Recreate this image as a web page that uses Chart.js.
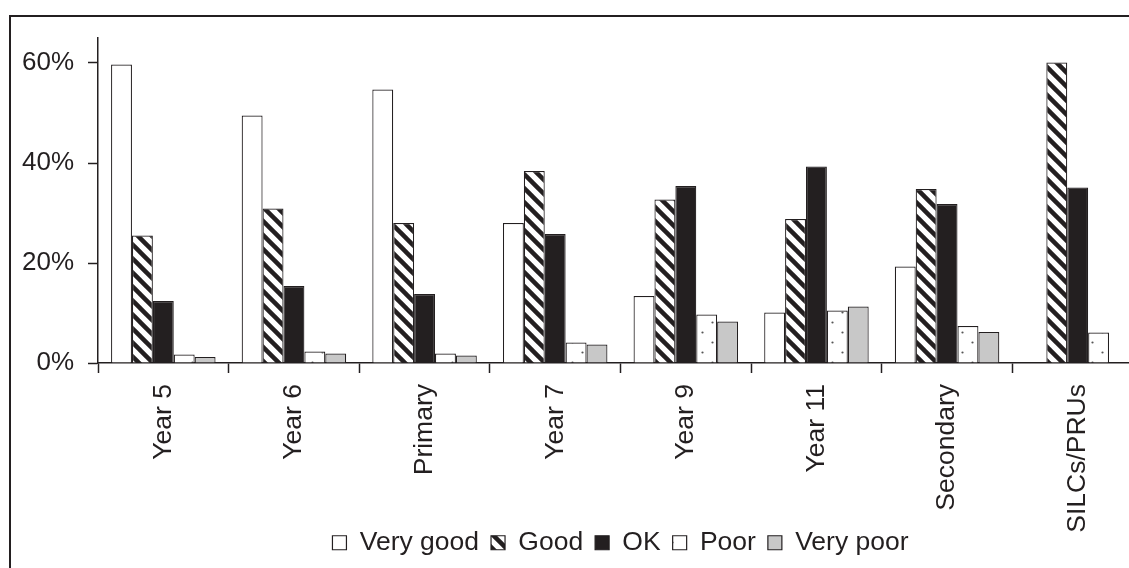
<!DOCTYPE html>
<html>
<head>
<meta charset="utf-8">
<script src="https://cdn.jsdelivr.net/npm/chart.js@4/dist/chart.umd.min.js"></script>
<style>
  html, body { margin: 0; padding: 0; background: #fff; overflow: hidden; width: 1129px; height: 568px; }
  #wrap { position: absolute; left: 0; top: 0; width: 1143px; height: 568px; }
</style>
</head>
<body>
<div id="wrap"><canvas id="chart"></canvas></div>
<script>
// Survey ratings by school phase (% of pupils)
const categories = ['Year 5', 'Year 6', 'Primary', 'Year 7', 'Year 9', 'Year 11', 'Secondary', 'SILCs/PRUs'];
const veryGood = [59.7, 49.5, 54.7, 28.0, 13.4, 10.1, 19.3, 0];
const good     = [25.5, 30.9, 28.0, 38.4, 32.7, 28.8, 34.8, 60.1];
const ok       = [12.4, 15.4, 13.8, 25.8, 35.4, 39.3, 31.8, 35.1];
const poor     = [1.7, 2.3, 1.9, 4.1, 9.7, 10.5, 7.4, 6.1];
const veryPoor = [1.2, 1.9, 1.5, 3.7, 8.3, 11.3, 6.2, 0];
const seriesNames = ['Very good', 'Good', 'OK', 'Poor', 'Very poor'];
const yTickValues = [0, 20, 40, 60];

const INK = '#231f20';
const FONT = 'Arial, "Liberation Sans", sans-serif';

// diagonal "\" hatching for the Good series
function hatchPattern() {
  const s = 14;
  const c = document.createElement('canvas');
  c.width = s; c.height = s;
  const g = c.getContext('2d');
  g.fillStyle = '#fff';
  g.fillRect(0, 0, s, s);
  g.strokeStyle = INK;
  g.lineWidth = 4.5;
  for (let k = -1; k <= 1; k++) {
    g.beginPath();
    g.moveTo(k * s - 2, -2);
    g.lineTo(k * s + s + 2, s + 2);
    g.stroke();
  }
  return g.createPattern(c, 'repeat');
}

// sparse dots for the Poor series
function dotPattern() {
  const w = 20, h = 20;
  const c = document.createElement('canvas');
  c.width = w; c.height = h;
  const g = c.getContext('2d');
  g.fillStyle = '#fff';
  g.fillRect(0, 0, w, h);
  g.fillStyle = '#555';
  [[12, 2], [2, 12]].forEach(([x, y]) => {
    g.beginPath(); g.arc(x + 0.5, y + 0.5, 1.1, 0, Math.PI * 2); g.fill();
  });
  return g.createPattern(c, 'repeat');
}

const fills = ['#ffffff', hatchPattern(), INK, dotPattern(), '#c8c8c8'];
const values = [veryGood, good, ok, poor, veryPoor];

const framePlugin = {
  id: 'frame',
  afterLayout(chart) {
    // let the rotated category labels run down past the legend row
    chart.scales.x.bottom = chart.height;
  },
  beforeDraw(chart) {
    const ctx = chart.ctx;
    ctx.save();
    ctx.fillStyle = '#fff';
    ctx.fillRect(0, 0, chart.width, chart.height);
    ctx.strokeStyle = INK;
    ctx.lineWidth = 2;
    ctx.beginPath();
    ctx.moveTo(10, chart.height + 5);
    ctx.lineTo(10, 16);
    ctx.lineTo(chart.width + 5, 16);
    ctx.stroke();
    ctx.restore();
  }
};

new Chart(document.getElementById('chart'), {
  type: 'bar',
  data: {
    labels: categories,
    datasets: seriesNames.map((name, i) => ({
      label: name,
      data: values[i],
      backgroundColor: fills[i],
      borderColor: INK,
      borderWidth: 1.2,
      categoryPercentage: 0.8,
      barPercentage: 1.0
    }))
  },
  options: {
    responsive: true,
    maintainAspectRatio: false,
    animation: false,
    layout: { padding: { top: 38, left: 0, right: 0, bottom: 2 } },
    plugins: {
      tooltip: { enabled: false },
      legend: {
        position: 'bottom',
        fullSize: false,
        labels: {
          boxWidth: 14,
          boxHeight: 14,
          padding: 12,
          color: INK,
          font: { family: FONT, size: 26.5 }
        }
      }
    },
    scales: {
      x: {
        grid: { offset: true, drawOnChartArea: false, drawTicks: true, tickLength: 10, tickColor: INK, tickWidth: 1.5 },
        border: { display: true, color: INK, width: 1.5 },
        ticks: { minRotation: 90, maxRotation: 90, autoSkip: false, padding: 11, color: INK, font: { family: FONT, size: 26.5 } },
        afterFit(scale) { scale.height = 154.5; }
      },
      y: {
        min: 0,
        max: 65,
        afterBuildTicks(scale) { scale.ticks = yTickValues.map(v => ({ value: v })); },
        afterFit(scale) { scale.width = 98; },
        grid: { drawOnChartArea: false, drawTicks: true, tickLength: 10, tickColor: INK, tickWidth: 1.5 },
        border: { display: true, color: INK, width: 1.5 },
        ticks: { padding: 14, color: INK, font: { family: FONT, size: 26 }, callback: v => v + '%' }
      }
    }
  },
  plugins: [framePlugin]
});
</script>
</body>
</html>
